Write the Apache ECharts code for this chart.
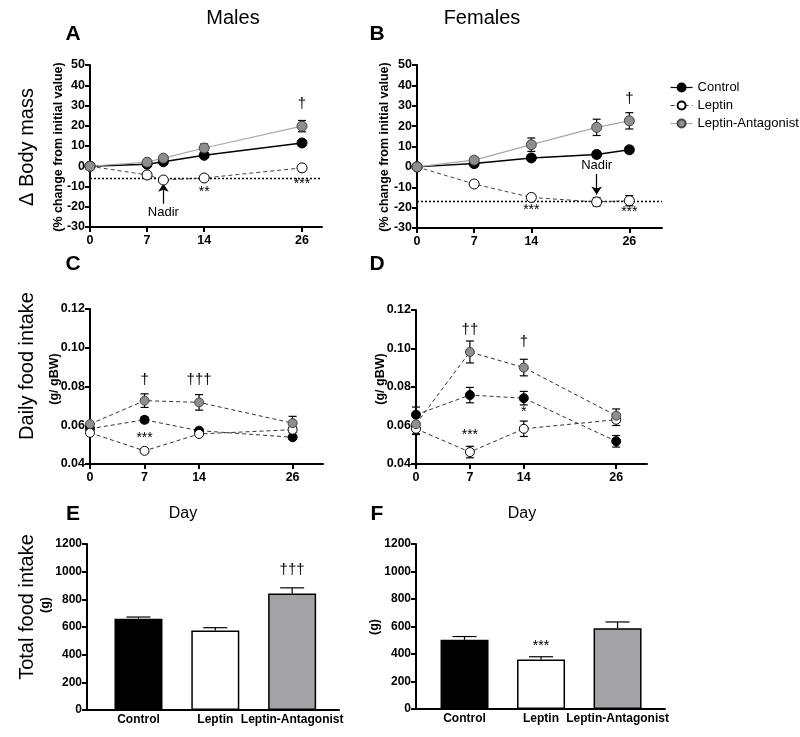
<!DOCTYPE html>
<html><head><meta charset="utf-8">
<script src="https://cdn.jsdelivr.net/npm/echarts@6/dist/echarts.min.js"></script>
<style>html,body{margin:0;padding:0;background:#fff}#c{width:800px;height:737px}</style>
</head><body><div id="c"></div>
<script>
// ---------- DATA ----------
const seriesNames = ['Control', 'Leptin', 'Leptin-Antagonist'];
// Panel A (males, body mass % change)
const daysA = [0, 7, 9, 14, 26];
const ctrlA = [0, 1, 2.2, 5.4, 11.5];
const ctrlAErr = [0, 0.8, 0.8, 1.0, 1.3];
const leptA = [0, -4.3, -6.8, -5.8, -0.8];
const leptAErr = [0, 0.8, 0.8, 0.9, 1.6];
const antA = [0, 2, 4, 9, 19.8];
const antAErr = [0, 1, 1, 2, 2.8];
const nadirA = -6;
// Panel B (females, body mass % change)
const daysB = [0, 7, 14, 22, 26];
const ctrlB = [0, 1.6, 4.4, 6.1, 8.4];
const ctrlBErr = [0, 0.8, 1.2, 1.5, 1.5];
const leptB = [0, -8.4, -15, -17.2, -16.6];
const leptBErr = [0, 0.8, 1.5, 2, 2.5];
const antB = [0, 3.3, 10.9, 19.4, 22.6];
const antBErr = [0, 1.5, 3.3, 4, 4];
const nadirB = -17;
// Panel C (males, daily food intake g/gBW)
const daysC = [0, 7, 14, 26];
const ctrlC = [0.0582, 0.0628, 0.0572, 0.0538];
const ctrlCErr = [0.0015, 0.0015, 0.001, 0.001];
const leptC = [0.0561, 0.0468, 0.0555, 0.0577];
const leptCErr = [0.001, 0.0012, 0.001, 0.0015];
const antC = [0.0606, 0.0727, 0.0718, 0.0611];
const antCErr = [0.0012, 0.0035, 0.004, 0.0035];
// Panel D (females, daily food intake g/gBW)
const ctrlD = [0.0656, 0.0758, 0.0742, 0.0518];
const ctrlDErr = [0.004, 0.004, 0.0035, 0.003];
const leptD = [0.0583, 0.0462, 0.0583, 0.063];
const leptDErr = [0.003, 0.003, 0.004, 0.003];
const antD = [0.0607, 0.0982, 0.0901, 0.0651];
const antDErr = [0.005, 0.0057, 0.0043, 0.0035];
// Panels E/F (total food intake g)
const barCats = ['Control', 'Leptin', 'Leptin-Antagonist'];
const totalE = [660, 575, 843];
const totalEErr = [12, 20, 40];
const totalF = [503, 360, 588];
const totalFErr = [24, 20, 45];
// Tick labels
const dayTicks = [0, 7, 14, 26];
const barTicks = [1, 2, 3];
// Annotations [x, y, text]
const annA = [[26, 31, '†'], [14, -13, '**'], [26, -8.6, '***'], [9, -23, 'Nadir']];
const annB = [[26, 33.5, '†'], [14, -21, '***'], [26, -22, '***'], [22, 0.5, 'Nadir']];
const annC = [[7, 0.0835, '†'], [14, 0.0835, '†††'], [7, 0.0532, '***']];
const annD = [[7, 0.1095, '††'], [14, 0.1035, '†'], [7, 0.0548, '***'], [14, 0.0668, '*']];
const annE = [[3, 1015, '†††']];
const annF = [[2, 460, '***']];
const arrowA = [[9, -18.5], [9, -8.6]];
const arrowB = [[22, -3.5], [22, -13.6]];

// ---------- STYLE ----------
const FF = '"Liberation Sans", Arial, sans-serif';
const BLACK = '#000';
const GREY_FILL = '#8e8e8e';
const GREY_BAR = '#a3a3a7';

function xAxisLine(gi, min, max, ticks, fmt, showTick) {
  return {
    type: 'value', gridIndex: gi, min: min, max: max,
    axisLine: {show: true, onZero: false, lineStyle: {color: BLACK, width: 2}},
    axisTick: {show: showTick, customValues: ticks, length: 5, lineStyle: {color: BLACK, width: 2}},
    axisLabel: {customValues: ticks, color: BLACK, fontWeight: 'bold', fontSize: 12.5, fontFamily: FF, margin: 7,
      formatter: fmt || (v => String(v))},
    splitLine: {show: false}
  };
}
function yAxisV(gi, min, max, interval, dec) {
  return {
    type: 'value', gridIndex: gi, min: min, max: max, interval: interval,
    axisLine: {show: true, onZero: false, lineStyle: {color: BLACK, width: 2}},
    axisTick: {show: true, length: 5, lineStyle: {color: BLACK, width: 2}},
    axisLabel: {color: BLACK, fontWeight: 'bold', fontSize: 12.5, fontFamily: FF, margin: 5,
      formatter: v => dec ? v.toFixed(dec) : String(Math.round(v))},
    splitLine: {show: false}
  };
}
function lineS(gi, name, xs, ys, kind, dashedAll, size) {
  const fill = kind === 0 ? BLACK : (kind === 1 ? '#fff' : GREY_FILL);
  let lineColor, lineType, lw;
  if (dashedAll) { lineColor = '#333'; lineType = [4, 3]; lw = 1; }
  else if (kind === 0) { lineColor = BLACK; lineType = 'solid'; lw = 1.5; }
  else if (kind === 1) { lineColor = '#444'; lineType = [4, 3]; lw = 1; }
  else { lineColor = '#a8a8a8'; lineType = 'solid'; lw = 1.2; }
  return {
    type: 'line', name: name, xAxisIndex: gi, yAxisIndex: gi,
    data: xs.map((x, i) => [x, ys[i]]),
    symbol: 'circle', symbolSize: size, showSymbol: true,
    lineStyle: {color: lineColor, width: lw, type: lineType},
    itemStyle: {color: fill, borderColor: kind === 2 ? '#444' : BLACK, borderWidth: 1},
    z: 4 + kind, silent: true, animation: false
  };
}
function errS(gi, xs, ms, es, capHalf, upOnly) {
  return {
    type: 'custom', xAxisIndex: gi, yAxisIndex: gi, silent: true, z: 3,
    data: xs.map((x, i) => [x, ms[i], es[i]]),
    renderItem: function (params, api) {
      const x = api.value(0), m = api.value(1), s = api.value(2);
      if (!s) return null;
      const top = api.coord([x, m + s]);
      const bot = api.coord([x, upOnly ? m : m - s]);
      const st = {stroke: BLACK, lineWidth: 1.2};
      const ch = [
        {type: 'line', shape: {x1: top[0], y1: top[1], x2: bot[0], y2: bot[1]}, style: st},
        {type: 'line', shape: {x1: top[0] - capHalf, y1: top[1], x2: top[0] + capHalf, y2: top[1]}, style: st}
      ];
      if (!upOnly) ch.push({type: 'line', shape: {x1: bot[0] - capHalf, y1: bot[1], x2: bot[0] + capHalf, y2: bot[1]}, style: st});
      return {type: 'group', children: ch};
    }
  };
}
function annS(gi, arr) {
  return {
    type: 'scatter', xAxisIndex: gi, yAxisIndex: gi, silent: true, z: 10,
    symbol: 'circle', symbolSize: 0.01, itemStyle: {color: BLACK, opacity: 1},
    data: arr.map(a => ({value: [a[0], a[1]], name: a[2],
      label: {fontSize: a[2] === 'Nadir' ? 13 : (a[2].indexOf('†') >= 0 ? 15 : 14)}})),
    label: {show: true, position: 'inside', color: BLACK, opacity: 1, textBorderWidth: 0, fontFamily: FF,
      formatter: p => p.name},
    labelLayout: {hideOverlap: false},
    animation: false
  };
}
function markH(val) {
  return {silent: true, symbol: 'none', label: {show: false},
    lineStyle: {color: BLACK, width: 1.3, type: [2, 2]}, data: [{yAxis: val}], animation: false};
}
function arrowMark(pts) {
  return {silent: true, symbol: ['none', 'arrow'], symbolSize: 8, label: {show: false},
    lineStyle: {color: BLACK, width: 1.2, type: 'solid'},
    data: [[{coord: pts[0]}, {coord: pts[1]}]], animation: false};
}

const grids = [
  {left: 90, top: 65, width: 232, height: 162},   // A
  {left: 417, top: 65, width: 245, height: 163},  // B
  {left: 90, top: 309, width: 233, height: 155},  // C
  {left: 416, top: 310, width: 231, height: 154}, // D
  {left: 87, top: 544, width: 252, height: 166},  // E
  {left: 416, top: 544, width: 249, height: 165}  // F
];

const xAxes = [
  xAxisLine(0, 0, 28.45, dayTicks, null, true),
  xAxisLine(1, 0, 30, dayTicks, null, true),
  xAxisLine(2, 0, 29.9, dayTicks, null, true),
  xAxisLine(3, 0, 30, dayTicks, null, true),
  xAxisLine(4, 0.33, 3.61, barTicks, v => barCats[Math.round(v) - 1], false),
  xAxisLine(5, 0.366, 3.62, barTicks, v => barCats[Math.round(v) - 1], false)
];
xAxes[4].axisLabel.fontSize = 12; xAxes[4].axisLabel.margin = 4;
xAxes[5].axisLabel.fontSize = 12; xAxes[5].axisLabel.margin = 4;
const yAxes = [
  yAxisV(0, -30, 50, 10, 0),
  yAxisV(1, -30, 50, 10, 0),
  yAxisV(2, 0.04, 0.12, 0.02, 2),
  yAxisV(3, 0.04, 0.12, 0.02, 2),
  yAxisV(4, 0, 1200, 200, 0),
  yAxisV(5, 0, 1200, 200, 0)
];
yAxes[4].axisLabel.fontSize = 12; yAxes[5].axisLabel.fontSize = 12;

const series = [];
// A
const la = lineS(0, 'Leptin', daysA, leptA, 1, false, 10);
la.markLine = arrowMark(arrowA);
const ca = lineS(0, 'Control', daysA, ctrlA, 0, false, 10);
ca.markLine = markH(nadirA);
series.push(errS(0, daysA, leptA, leptAErr, 4), errS(0, daysA, ctrlA, ctrlAErr, 4), errS(0, daysA, antA, antAErr, 4));
series.push(la, ca, lineS(0, 'Leptin-Antagonist', daysA, antA, 2, false, 10), annS(0, annA));
// B
const lb = lineS(1, 'Leptin', daysB, leptB, 1, false, 10);
lb.markLine = arrowMark(arrowB);
const cb = lineS(1, 'Control', daysB, ctrlB, 0, false, 10);
cb.markLine = markH(nadirB);
series.push(errS(1, daysB, leptB, leptBErr, 4), errS(1, daysB, ctrlB, ctrlBErr, 4), errS(1, daysB, antB, antBErr, 4));
series.push(lb, cb, lineS(1, 'Leptin-Antagonist', daysB, antB, 2, false, 10), annS(1, annB));
// C
series.push(errS(2, daysC, leptC, leptCErr, 4), errS(2, daysC, ctrlC, ctrlCErr, 4), errS(2, daysC, antC, antCErr, 4));
series.push(lineS(2, 'Leptin', daysC, leptC, 1, true, 9), lineS(2, 'Control', daysC, ctrlC, 0, true, 9),
  lineS(2, 'Leptin-Antagonist', daysC, antC, 2, true, 9), annS(2, annC));
// D
series.push(errS(3, daysC, leptD, leptDErr, 4), errS(3, daysC, ctrlD, ctrlDErr, 4), errS(3, daysC, antD, antDErr, 4));
series.push(lineS(3, 'Leptin', daysC, leptD, 1, true, 9), lineS(3, 'Control', daysC, ctrlD, 0, true, 9),
  lineS(3, 'Leptin-Antagonist', daysC, antD, 2, true, 9), annS(3, annD));
// E, F bars
const barColors = [BLACK, '#fff', GREY_BAR];
function barS(gi, vals) {
  return {type: 'bar', xAxisIndex: gi, yAxisIndex: gi, barWidth: 48, silent: true, z: 2,
    data: vals.map((v, i) => ({value: [barTicks[i], v], itemStyle: {color: barColors[i]}})),
    itemStyle: {borderColor: BLACK, borderWidth: 1.5}, animation: false};
}
series.push(barS(4, totalE), errS(4, barTicks, totalE, totalEErr, 12, true), annS(4, annE));
series.push(barS(5, totalF), errS(5, barTicks, totalF, totalFErr, 12, true), annS(5, annF));

function txt(x, y, s, size, weight, rot) {
  return {type: 'text', x: x, y: y, rotation: rot || 0, silent: true,
    style: {text: s, fill: BLACK, font: (weight || 'normal') + ' ' + size + 'px ' + FF,
      textAlign: 'center', textVerticalAlign: 'middle'}};
}
const R = Math.PI / 2;
const graphic = [
  txt(233, 18, 'Males', 20), txt(482, 18, 'Females', 20),
  txt(73, 34, 'A', 21, 'bold'), txt(377, 34, 'B', 21, 'bold'),
  txt(73, 264, 'C', 21, 'bold'), txt(377, 264, 'D', 21, 'bold'),
  txt(73, 514, 'E', 21, 'bold'), txt(377, 514, 'F', 21, 'bold'),
  txt(183, 514, 'Day', 16), txt(522, 514, 'Day', 16),
  txt(27, 147, 'Δ Body mass', 20, 'normal', R),
  txt(27, 366, 'Daily food intake', 20, 'normal', R),
  txt(27, 607, 'Total food intake', 20, 'normal', R),
  txt(59, 147, '(% change from initial value)', 12.5, 'bold', R),
  txt(385, 147, '(% change from initial value)', 12.5, 'bold', R),
  txt(55, 379, '(g/ gBW)', 12.5, 'bold', R),
  txt(381, 379, '(g/ gBW)', 12.5, 'bold', R),
  txt(46, 605, '(g)', 12.5, 'bold', R),
  txt(375, 627, '(g)', 12.5, 'bold', R)
];

const chart = echarts.init(document.getElementById('c'), null, {renderer: 'canvas'});
chart.setOption({
  animation: false,
  backgroundColor: '#fff',
  grid: grids,
  xAxis: xAxes,
  yAxis: yAxes,
  legend: {
    data: seriesNames, orient: 'vertical', left: 665, top: 76,
    itemWidth: 22, itemHeight: 10, itemGap: 5, selectedMode: false,
    lineStyle: {width: 1.2},
    textStyle: {color: BLACK, fontSize: 13, fontFamily: FF}
  },
  graphic: graphic,
  series: series
});
</script></body></html>
